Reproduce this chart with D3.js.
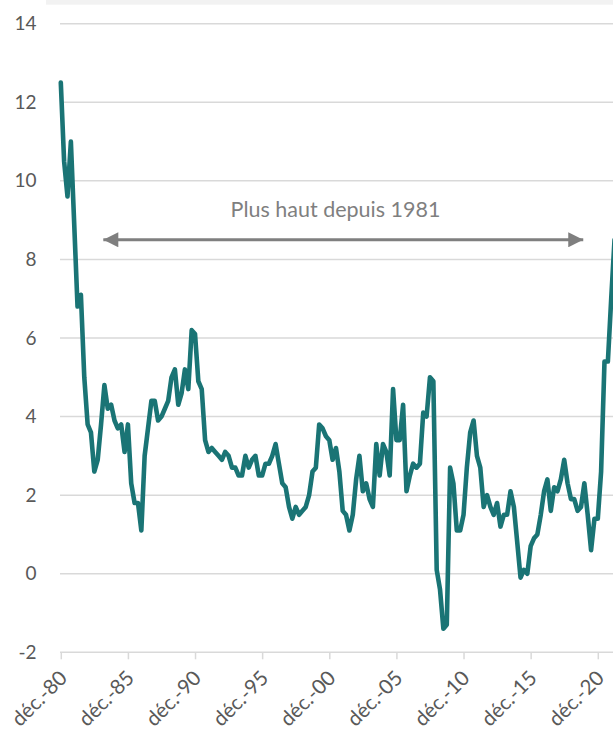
<!DOCTYPE html>
<html>
<head>
<meta charset="utf-8">
<script src="https://cdn.jsdelivr.net/npm/d3@7"></script>
<style>
    body { margin: 0; background: #fff; }
    #chart-area { width: 613px; height: 732px; overflow: hidden; }
    text { font-family: Lato, "Open Sans", sans-serif; }
</style>
</head>
<body>
<div id="chart-area"></div>
<script>

// quarterly inflation, first point = déc. 1980, then mars/juin/sept./déc. of each year
let firstQuarter = [1980, 11];   // year, month index (Dec)
let values = [
    12.5,
    10.5, 9.6, 11.0, 8.9,     // 1981
    6.8, 7.1, 5.0, 3.8,       // 1982
    3.6, 2.6, 2.9, 3.8,       // 1983
    4.8, 4.2, 4.3, 3.9,       // 1984
    3.7, 3.8, 3.1, 3.8,       // 1985
    2.3, 1.8, 1.8, 1.1,       // 1986
    3.0, 3.7, 4.4, 4.4,       // 1987
    3.9, 4.0, 4.2, 4.4,       // 1988
    5.0, 5.2, 4.3, 4.6,       // 1989
    5.2, 4.7, 6.2, 6.1,       // 1990
    4.9, 4.7, 3.4, 3.1,       // 1991
    3.2, 3.1, 3.0, 2.9,       // 1992
    3.1, 3.0, 2.7, 2.7,       // 1993
    2.5, 2.5, 3.0, 2.7,       // 1994
    2.9, 3.0, 2.5, 2.5,       // 1995
    2.8, 2.8, 3.0, 3.3,       // 1996
    2.8, 2.3, 2.2, 1.7,       // 1997
    1.4, 1.7, 1.5, 1.6,       // 1998
    1.7, 2.0, 2.6, 2.7,       // 1999
    3.8, 3.7, 3.5, 3.4,       // 2000
    2.9, 3.2, 2.6, 1.6,       // 2001
    1.5, 1.1, 1.5, 2.4,       // 2002
    3.0, 2.1, 2.3, 1.9,       // 2003
    1.7, 3.3, 2.5, 3.3,       // 2004
    3.1, 2.5, 4.7, 3.4,       // 2005
    3.4, 4.3, 2.1, 2.5,       // 2006
    2.8, 2.7, 2.8, 4.1,       // 2007
    4.0, 5.0, 4.9, 0.1,       // 2008
    -0.4, -1.4, -1.3, 2.7,    // 2009
    2.3, 1.1, 1.1, 1.5,       // 2010
    2.7, 3.6, 3.9, 3.0,       // 2011
    2.7, 1.7, 2.0, 1.7,       // 2012
    1.5, 1.8, 1.2, 1.5,       // 2013
    1.5, 2.1, 1.7, 0.8,       // 2014
    -0.1, 0.1, 0.0, 0.7,      // 2015
    0.9, 1.0, 1.5, 2.1,       // 2016
    2.4, 1.6, 2.2, 2.1,       // 2017
    2.4, 2.9, 2.3, 1.9,       // 2018
    1.9, 1.6, 1.7, 2.3,       // 2019
    1.5, 0.6, 1.4, 1.4,       // 2020
    2.6, 5.4, 5.4, 7.0,       // 2021
    8.5                       // 2022
];

let tickYears = [1980, 1985, 1990, 1995, 2000, 2005, 2010, 2015, 2020];
let yTicks = [-2, 0, 2, 4, 6, 8, 10, 12, 14];
let annotationText = "Plus haut depuis 1981";
let annotationRange = [1984.1, 2019.8];   // years spanned by the arrow
let annotationValue = 8.5;

class LineVis {

    constructor(parentElement, data) {
        this.parentElement = parentElement;
        this.data = data;
        this.initVis();
    }

    initVis() {
        let vis = this;

        vis.width = 613;
        vis.height = 732;

        vis.svg = d3.select("#" + vis.parentElement).append("svg")
            .attr("width", vis.width)
            .attr("height", vis.height);

        // thin grey band along the top (frame of the original slide)
        vis.svg.append("rect")
            .attr("x", 46).attr("y", 0)
            .attr("width", vis.width - 46).attr("height", 4.7)
            .attr("fill", "#f2f2f2");

        vis.x = d3.scaleTime()
            .domain([new Date(1980, 11, 1), new Date(2020, 11, 1)])
            .range([60.8, 597.8]);

        vis.y = d3.scaleLinear()
            .domain([-2, 14])
            .range([652.3, 23.7]);

        vis.wrangleData();
    }

    wrangleData() {
        let vis = this;

        vis.displayData = vis.data.map((v, i) => ({
            date: new Date(firstQuarter[0], firstQuarter[1] + 3 * i, 1),
            value: v
        }));

        vis.updateVis();
    }

    updateVis() {
        let vis = this;

        // horizontal gridlines
        vis.svg.append("g")
            .attr("class", "grid")
            .selectAll("line")
            .data(yTicks.filter(d => d !== -2))
            .enter().append("line")
            .attr("x1", 60).attr("x2", vis.width)
            .attr("y1", d => vis.y(d)).attr("y2", d => vis.y(d))
            .attr("stroke", "#d9d9d9")
            .attr("stroke-width", 1.5);

        // y axis labels
        vis.yAxis = d3.axisLeft(vis.y)
            .tickValues(yTicks)
            .tickSize(0)
            .tickPadding(0)
            .tickFormat(d => d3.format("d")(d).replace("−", "-"));

        vis.svg.append("g")
            .attr("class", "y-axis axis")
            .attr("transform", "translate(36.5,0)")
            .call(vis.yAxis)
            .call(g => g.select(".domain").remove())
            .selectAll("text")
            .attr("fill", "#595959")
            .style("font-size", "19px")
            .style("font-family", "Lato, sans-serif");

        // x axis: line at -2 with ticks every five years
        vis.xAxis = d3.axisBottom(vis.x)
            .tickValues(tickYears.map(y => new Date(y, 11, 1)))
            .tickSize(7)
            .tickSizeOuter(0)
            .tickFormat(d => "déc.-" + String(d.getFullYear()).slice(2));

        let xg = vis.svg.append("g")
            .attr("class", "x-axis axis")
            .attr("transform", "translate(0," + vis.y(-2) + ")")
            .call(vis.xAxis);

        xg.select(".domain")
            .attr("d", "M60,0H" + vis.width)
            .attr("stroke", "#d9d9d9")
            .attr("stroke-width", 1.5);
        xg.selectAll(".tick line")
            .attr("stroke", "#d9d9d9")
            .attr("stroke-width", 1.5);
        xg.selectAll(".tick text")
            .attr("fill", "#595959")
            .style("font-size", "20.5px")
            .style("font-family", "Lato, sans-serif")
            .attr("text-anchor", "end")
            .attr("y", 0).attr("dy", 0)
            .attr("transform", "translate(7,27) rotate(-45)");

        // annotation arrow
        let defs = vis.svg.append("defs");
        ["start", "end"].forEach(k => {
            defs.append("marker")
                .attr("id", "arrow-" + k)
                .attr("viewBox", "0 0 10 10")
                .attr("refX", k === "end" ? 10 : 0).attr("refY", 5)
                .attr("markerUnits", "userSpaceOnUse")
                .attr("markerWidth", 16).attr("markerHeight", 15)
                .attr("orient", "auto")
                .append("path")
                .attr("d", k === "end" ? "M0,0L10,5L0,10Z" : "M10,0L0,5L10,10Z")
                .attr("fill", "#7f7f7f");
        });

        let yearToDate = yr => new Date(Math.floor(yr), Math.round((yr % 1) * 12), 1);
        let ax1 = vis.x(yearToDate(annotationRange[0]));
        let ax2 = vis.x(yearToDate(annotationRange[1]));
        let ay = vis.y(annotationValue);

        vis.svg.append("line")
            .attr("x1", ax1).attr("x2", ax2)
            .attr("y1", ay).attr("y2", ay)
            .attr("stroke", "#7f7f7f")
            .attr("stroke-width", 3)
            .attr("marker-start", "url(#arrow-start)")
            .attr("marker-end", "url(#arrow-end)");

        vis.svg.append("text")
            .attr("x", 335.5)
            .attr("y", ay - 23)
            .attr("text-anchor", "middle")
            .attr("fill", "#7f7f7f")
            .style("font-size", "21.5px")
            .text(annotationText);

        // the series
        vis.line = d3.line()
            .x(d => vis.x(d.date))
            .y(d => vis.y(d.value));

        vis.svg.append("path")
            .datum(vis.displayData)
            .attr("fill", "none")
            .attr("stroke", "#1a7475")
            .attr("stroke-width", 4.6)
            .attr("stroke-linejoin", "round")
            .attr("stroke-linecap", "round")
            .attr("d", vis.line);
    }
}

let lineVis = new LineVis("chart-area", values);

</script>
</body>
</html>
